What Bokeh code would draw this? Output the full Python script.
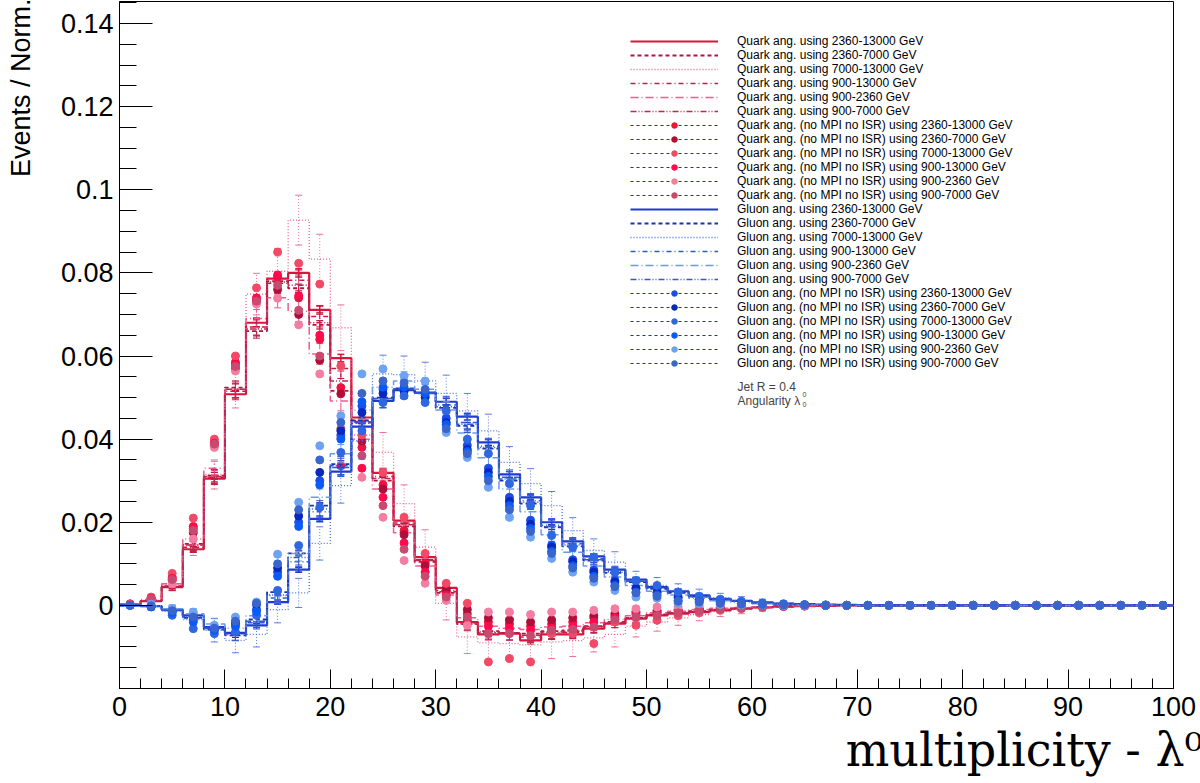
import math
import numpy as np
from bokeh.plotting import figure
from bokeh.models import FixedTicker, Label, Legend, LegendItem, Range1d, Title
from bokeh.embed import file_html
from bokeh.resources import INLINE

# ---------------- data ----------------
bin_width = 2
bin_lo = list(range(0, 100, bin_width))          # 50 bins: 0-2, 2-4, ... 98-100

x_ticks = [0, 10, 20, 30, 40, 50, 60, 70, 80, 90, 100]
x_tick_labels = ["0", "10", "20", "30", "40", "50", "60", "70", "80", "90", "100"]
y_ticks = [0.0, 0.02, 0.04, 0.06, 0.08, 0.1, 0.12, 0.14]
y_tick_labels = ["0", "0.02", "0.04", "0.06", "0.08", "0.1", "0.12", "0.14"]

Z10 = [0.0] * 10

# Quark histograms
q_2360_13000 = [0.0002, 0.0010, 0.0044, 0.0135, 0.0305, 0.0508, 0.0680, 0.0786, 0.0800, 0.0711,
                0.0595, 0.0452, 0.0319, 0.0204, 0.0116, 0.0042, -0.0040, -0.0070, -0.0068, -0.0084,
                -0.0070, -0.0070, -0.0056, -0.0044, -0.0032, -0.0024, -0.0020, -0.0016, -0.0012, -0.0008,
                -0.0005, -0.0003, -0.0002, -0.0001, 0.0, 0.0, 0.0, 0.0, 0.0, 0.0] + Z10
q_2360_7000 = [0.0002, 0.0011, 0.0046, 0.0148, 0.0312, 0.0524, 0.0660, 0.0780, 0.0763, 0.0675,
               0.0516, 0.0440, 0.0300, 0.0190, 0.0105, 0.0030, -0.0045, -0.0062, -0.0066, -0.0068,
               -0.0062, -0.0060, -0.0050, -0.0040, -0.0030, -0.0022, -0.0018, -0.0014, -0.0010, -0.0007,
               -0.0004, -0.0002, -0.0001, 0.0, 0.0, 0.0, 0.0, 0.0, 0.0, 0.0] + Z10
q_7000_13000 = [0.0002, 0.0012, 0.0050, 0.0145, 0.0315, 0.0520, 0.0749, 0.0804, 0.0927, 0.0833,
                0.0668, 0.0410, 0.0368, 0.0245, 0.0140, 0.0005, -0.0076, -0.0090, -0.0092, -0.0095,
                -0.0088, -0.0085, -0.0078, -0.0070, -0.0050, -0.0040, -0.0030, -0.0022, -0.0015, -0.0010,
                -0.0006, -0.0004, -0.0002, -0.0001, 0.0, 0.0, 0.0, 0.0, 0.0, 0.0] + Z10
q_900_13000 = [0.0002, 0.0010, 0.0045, 0.0140, 0.0308, 0.0515, 0.0670, 0.0775, 0.0782, 0.0695,
               0.0570, 0.0445, 0.0310, 0.0198, 0.0110, 0.0036, -0.0042, -0.0066, -0.0067, -0.0076,
               -0.0066, -0.0065, -0.0053, -0.0042, -0.0031, -0.0023, -0.0019, -0.0015, -0.0011, -0.0008,
               -0.0005, -0.0003, -0.0001, 0.0, 0.0, 0.0, 0.0, 0.0, 0.0, 0.0] + Z10
q_900_2360 = [0.0003, 0.0014, 0.0052, 0.0160, 0.0330, 0.0520, 0.0690, 0.0740, 0.0708, 0.0605,
              0.0492, 0.0400, 0.0280, 0.0175, 0.0095, 0.0025, -0.0030, -0.0050, -0.0055, -0.0058,
              -0.0052, -0.0050, -0.0042, -0.0034, -0.0025, -0.0018, -0.0014, -0.0010, -0.0007, -0.0005,
              -0.0003, -0.0002, -0.0001, 0.0, 0.0, 0.0, 0.0, 0.0, 0.0, 0.0] + Z10
q_900_7000 = [0.0002, 0.0011, 0.0046, 0.0145, 0.0310, 0.0520, 0.0665, 0.0778, 0.0770, 0.0680,
              0.0540, 0.0442, 0.0305, 0.0194, 0.0108, 0.0033, -0.0044, -0.0064, -0.0066, -0.0072,
              -0.0064, -0.0062, -0.0051, -0.0041, -0.0030, -0.0022, -0.0018, -0.0014, -0.0010, -0.0007,
              -0.0004, -0.0002, -0.0001, 0.0, 0.0, 0.0, 0.0, 0.0, 0.0, 0.0] + Z10

# Quark (no MPI no ISR) markers
qn_2360_13000 = [0.0003, 0.0018, 0.0068, 0.0190, 0.0392, 0.0585, 0.0735, 0.0790, 0.0740, 0.0640,
                 0.0524, 0.0380, 0.0290, 0.0180, 0.0100, 0.0035, -0.0020, -0.0040, -0.0045, -0.0050,
                 -0.0045, -0.0040, -0.0030, -0.0025, -0.0018, -0.0015, -0.0012, -0.0009, -0.0006, -0.0004,
                 -0.0002, -0.0001, -0.0001, 0.0, 0.0, 0.0, 0.0, 0.0, 0.0, 0.0] + Z10
qn_2360_7000 = [0.0002, 0.0015, 0.0060, 0.0175, 0.0385, 0.0570, 0.0730, 0.0760, 0.0700, 0.0590,
                0.0509, 0.0395, 0.0280, 0.0170, 0.0095, 0.0040, -0.0010, -0.0030, -0.0035, -0.0040,
                -0.0035, -0.0030, -0.0025, -0.0020, -0.0015, -0.0012, -0.0010, -0.0008, -0.0005, -0.0003,
                -0.0002, -0.0001, 0.0, 0.0, 0.0, 0.0, 0.0, 0.0, 0.0, 0.0] + Z10
qn_7000_13000 = [0.0004, 0.0020, 0.0077, 0.0210, 0.0400, 0.0600, 0.0764, 0.0850, 0.0823, 0.0773,
                 0.0576, 0.0410, 0.0320, 0.0212, 0.0125, 0.0053, 0.0005, -0.0136, -0.0128, -0.0136,
                 -0.0068, -0.0068, -0.0092, -0.0040, -0.0048, -0.0036, -0.0025, -0.0018, -0.0012, -0.0008,
                 -0.0005, -0.0003, -0.0002, 0.0, 0.0, 0.0, 0.0, 0.0, 0.0, 0.0] + Z10
qn_900_13000 = [0.0003, 0.0017, 0.0065, 0.0185, 0.0390, 0.0580, 0.0740, 0.0795, 0.0745, 0.0650,
                0.0336, 0.0330, 0.0260, 0.0150, 0.0080, 0.0025, -0.0035, -0.0050, -0.0055, -0.0060,
                -0.0055, -0.0050, -0.0040, -0.0030, -0.0022, -0.0020, -0.0015, -0.0011, -0.0008, -0.0005,
                -0.0003, -0.0002, -0.0001, 0.0, 0.0, 0.0, 0.0, 0.0, 0.0, 0.0] + Z10
qn_900_2360 = [0.0002, 0.0013, 0.0052, 0.0160, 0.0380, 0.0564, 0.0725, 0.0739, 0.0675, 0.0557,
               0.0404, 0.0308, 0.0212, 0.0108, 0.0053, 0.0012, -0.0048, -0.0016, -0.0016, -0.0022,
               -0.0016, -0.0016, -0.0012, -0.0008, -0.0008, -0.0004, -0.0003, -0.0002, -0.0001, -0.0001,
               0.0, 0.0, 0.0, 0.0, 0.0, 0.0, 0.0, 0.0, 0.0, 0.0] + Z10
qn_900_7000 = [0.0003, 0.0016, 0.0062, 0.0180, 0.0388, 0.0575, 0.0732, 0.0770, 0.0710, 0.0600,
               0.0425, 0.0360, 0.0240, 0.0135, 0.0070, 0.0020, -0.0028, -0.0068, -0.0068, -0.0073,
               -0.0060, -0.0058, -0.0052, -0.0035, -0.0028, -0.0025, -0.0018, -0.0013, -0.0009, -0.0006,
               -0.0004, -0.0002, -0.0001, 0.0, 0.0, 0.0, 0.0, 0.0, 0.0, 0.0] + Z10

# Gluon histograms
g_2360_13000 = [0.0, -0.0002, -0.0010, -0.0024, -0.0052, -0.0066, -0.0048, 0.0008, 0.0086, 0.0208,
                0.0322, 0.0430, 0.0492, 0.0518, 0.0512, 0.0490, 0.0454, 0.0392, 0.0315, 0.0260,
                0.0200, 0.0154, 0.0118, 0.0086, 0.0062, 0.0044, 0.0034, 0.0024, 0.0016, 0.0011,
                0.0007, 0.0004, 0.0003, 0.0002, 0.0001, 0.0, 0.0, 0.0, 0.0, 0.0] + Z10
g_2360_7000 = [0.0, -0.0002, -0.0012, -0.0030, -0.0058, -0.0072, -0.0034, 0.0032, 0.0125, 0.0240,
               0.0340, 0.0445, 0.0500, 0.0522, 0.0512, 0.0475, 0.0432, 0.0377, 0.0300, 0.0245,
               0.0188, 0.0142, 0.0108, 0.0078, 0.0056, 0.0040, 0.0030, 0.0021, 0.0014, 0.0010,
               0.0006, 0.0004, 0.0002, 0.0001, 0.0001, 0.0, 0.0, 0.0, 0.0, 0.0] + Z10
g_7000_13000 = [0.0, -0.0003, -0.0014, -0.0034, -0.0060, -0.0084, -0.0070, -0.0010, 0.0030, 0.0149,
                0.0288, 0.0396, 0.0557, 0.0555, 0.0540, 0.0510, 0.0468, 0.0420, 0.0344, 0.0293,
                0.0240, 0.0180, 0.0132, 0.0104, 0.0060, 0.0048, 0.0036, 0.0026, 0.0018, 0.0012,
                0.0008, 0.0005, 0.0003, 0.0002, 0.0001, 0.0, 0.0, 0.0, 0.0, 0.0] + Z10
g_900_13000 = [0.0, -0.0002, -0.0011, -0.0027, -0.0055, -0.0069, -0.0042, 0.0018, 0.0105, 0.0225,
               0.0332, 0.0438, 0.0497, 0.0520, 0.0510, 0.0482, 0.0440, 0.0383, 0.0308, 0.0252,
               0.0193, 0.0148, 0.0112, 0.0082, 0.0058, 0.0042, 0.0032, 0.0022, 0.0015, 0.0010,
               0.0006, 0.0004, 0.0002, 0.0001, 0.0001, 0.0, 0.0, 0.0, 0.0, 0.0] + Z10
g_900_2360 = [0.0, -0.0001, -0.0008, -0.0020, -0.0045, -0.0055, -0.0025, 0.0024, 0.0125, 0.0260,
              0.0365, 0.0470, 0.0525, 0.0540, 0.0520, 0.0470, 0.0415, 0.0355, 0.0280, 0.0225,
              0.0170, 0.0128, 0.0095, 0.0068, 0.0048, 0.0034, 0.0025, 0.0017, 0.0011, 0.0007,
              0.0004, 0.0002, 0.0001, 0.0001, 0.0, 0.0, 0.0, 0.0, 0.0, 0.0] + Z10
g_900_7000 = [0.0, -0.0002, -0.0011, -0.0028, -0.0056, -0.0070, -0.0038, 0.0025, 0.0115, 0.0232,
              0.0336, 0.0442, 0.0498, 0.0521, 0.0511, 0.0478, 0.0436, 0.0380, 0.0304, 0.0248,
              0.0190, 0.0145, 0.0110, 0.0080, 0.0057, 0.0041, 0.0031, 0.0021, 0.0014, 0.0010,
              0.0006, 0.0004, 0.0002, 0.0001, 0.0001, 0.0, 0.0, 0.0, 0.0, 0.0] + Z10

# Gluon (no MPI no ISR) markers
gn_2360_13000 = [0.0, -0.0003, -0.0015, -0.0035, -0.0058, -0.0045, -0.0010, 0.0080, 0.0200, 0.0300,
                 0.0410, 0.0480, 0.0520, 0.0520, 0.0505, 0.0450, 0.0385, 0.0330, 0.0260, 0.0205,
                 0.0145, 0.0110, 0.0085, 0.0060, 0.0042, 0.0032, 0.0020, 0.0014, 0.0009, 0.0006,
                 0.0004, 0.0002, 0.0001, 0.0001, 0.0, 0.0, 0.0, 0.0, 0.0, 0.0] + Z10
gn_2360_7000 = [0.0, -0.0002, -0.0012, -0.0030, -0.0055, -0.0040, 0.0002, 0.0090, 0.0215, 0.0320,
                0.0420, 0.0464, 0.0510, 0.0515, 0.0500, 0.0440, 0.0375, 0.0320, 0.0250, 0.0195,
                0.0140, 0.0105, 0.0080, 0.0056, 0.0040, 0.0030, 0.0018, 0.0013, 0.0008, 0.0005,
                0.0003, 0.0002, 0.0001, 0.0, 0.0, 0.0, 0.0, 0.0, 0.0, 0.0] + Z10
gn_7000_13000 = [0.0, -0.0004, -0.0024, -0.0056, -0.0068, -0.0064, -0.0024, 0.0036, 0.0144, 0.0236,
                 0.0368, 0.0420, 0.0488, 0.0504, 0.0488, 0.0468, 0.0400, 0.0365, 0.0293, 0.0240,
                 0.0168, 0.0140, 0.0116, 0.0080, 0.0060, 0.0048, 0.0032, 0.0022, 0.0015, 0.0010,
                 0.0006, 0.0004, 0.0002, 0.0001, 0.0, 0.0, 0.0, 0.0, 0.0, 0.0] + Z10
gn_900_13000 = [0.0, -0.0003, -0.0018, -0.0040, -0.0060, -0.0050, -0.0015, 0.0070, 0.0190, 0.0290,
                0.0400, 0.0490, 0.0525, 0.0525, 0.0510, 0.0435, 0.0370, 0.0310, 0.0240, 0.0185,
                0.0130, 0.0095, 0.0070, 0.0048, 0.0032, 0.0025, 0.0012, 0.0009, 0.0006, 0.0004,
                0.0002, 0.0001, 0.0001, 0.0, 0.0, 0.0, 0.0, 0.0, 0.0, 0.0] + Z10
gn_900_2360 = [0.0, 0.0003, -0.0008, -0.0016, -0.0048, -0.0028, 0.0008, 0.0123, 0.0248, 0.0384,
               0.0456, 0.0557, 0.0569, 0.0552, 0.0540, 0.0416, 0.0356, 0.0284, 0.0212, 0.0164,
               0.0113, 0.0080, 0.0056, 0.0036, 0.0020, 0.0017, 0.0005, 0.0004, 0.0002, 0.0001,
               0.0001, 0.0, 0.0, 0.0, 0.0, 0.0, 0.0, 0.0, 0.0, 0.0] + Z10
gn_900_7000 = [0.0, -0.0001, -0.0013, -0.0028, -0.0055, -0.0038, 0.0005, 0.0100, 0.0230, 0.0350,
               0.0440, 0.0510, 0.0540, 0.0535, 0.0520, 0.0425, 0.0365, 0.0300, 0.0230, 0.0178,
               0.0125, 0.0090, 0.0065, 0.0045, 0.0030, 0.0022, 0.0010, 0.0008, 0.0005, 0.0003,
               0.0002, 0.0001, 0.0001, 0.0, 0.0, 0.0, 0.0, 0.0, 0.0, 0.0] + Z10

# statistical uncertainties (small / medium / large samples)
q_err_small = [0.0002, 0.0003, 0.0004, 0.0006, 0.0008, 0.0009, 0.0010, 0.0010, 0.0010, 0.0010,
               0.0009, 0.0009, 0.0008, 0.0007, 0.0006, 0.0005, 0.0005, 0.0005, 0.0004, 0.0004,
               0.0004, 0.0004, 0.0003, 0.0003, 0.0003, 0.0002, 0.0002, 0.0002, 0.0002, 0.0001,
               0.0001, 0.0001, 0.0001, 0.0001, 0.0, 0.0, 0.0, 0.0, 0.0, 0.0] + Z10
q_err_medium = [0.0003, 0.0006, 0.0009, 0.0013, 0.0017, 0.0020, 0.0022, 0.0024, 0.0025, 0.0025,
                0.0024, 0.0022, 0.0020, 0.0019, 0.0018, 0.0017, 0.0017, 0.0017, 0.0017, 0.0017,
                0.0016, 0.0015, 0.0014, 0.0012, 0.0010, 0.0009, 0.0008, 0.0007, 0.0006, 0.0005,
                0.0004, 0.0003, 0.0002, 0.0002, 0.0001, 0.0001, 0.0, 0.0, 0.0, 0.0] + Z10
q_err_large = [0.0005, 0.0010, 0.0015, 0.0025, 0.0035, 0.0045, 0.0050, 0.0055, 0.0060, 0.0060,
               0.0055, 0.0050, 0.0048, 0.0045, 0.0042, 0.0040, 0.0040, 0.0042, 0.0042, 0.0042,
               0.0040, 0.0038, 0.0034, 0.0030, 0.0026, 0.0022, 0.0018, 0.0015, 0.0012, 0.0010,
               0.0008, 0.0006, 0.0005, 0.0004, 0.0003, 0.0002, 0.0002, 0.0001, 0.0001, 0.0001] + Z10
g_err_small = [0.0001, 0.0002, 0.0003, 0.0004, 0.0005, 0.0005, 0.0005, 0.0005, 0.0006, 0.0007,
               0.0008, 0.0008, 0.0008, 0.0008, 0.0008, 0.0008, 0.0008, 0.0007, 0.0007, 0.0006,
               0.0006, 0.0005, 0.0005, 0.0004, 0.0004, 0.0003, 0.0003, 0.0003, 0.0002, 0.0002,
               0.0002, 0.0001, 0.0001, 0.0001, 0.0001, 0.0, 0.0, 0.0, 0.0, 0.0] + Z10
g_err_medium = [0.0002, 0.0004, 0.0008, 0.0012, 0.0014, 0.0015, 0.0015, 0.0016, 0.0018, 0.0020,
                0.0022, 0.0022, 0.0022, 0.0022, 0.0022, 0.0021, 0.0020, 0.0019, 0.0018, 0.0017,
                0.0016, 0.0015, 0.0013, 0.0012, 0.0010, 0.0009, 0.0008, 0.0007, 0.0006, 0.0005,
                0.0004, 0.0003, 0.0002, 0.0002, 0.0001, 0.0001, 0.0, 0.0, 0.0, 0.0] + Z10
g_err_large = [0.0004, 0.0008, 0.0015, 0.0022, 0.0028, 0.0030, 0.0030, 0.0032, 0.0035, 0.0040,
               0.0042, 0.0044, 0.0045, 0.0045, 0.0045, 0.0044, 0.0042, 0.0040, 0.0038, 0.0036,
               0.0034, 0.0031, 0.0028, 0.0025, 0.0022, 0.0019, 0.0016, 0.0013, 0.0011, 0.0009,
               0.0007, 0.0005, 0.0004, 0.0003, 0.0002, 0.0002, 0.0001, 0.0001, 0.0, 0.0] + Z10

ranges = ["2360-13000", "2360-7000", "7000-13000", "900-13000", "900-2360", "900-7000"]

quark_hists = [q_2360_13000, q_2360_7000, q_7000_13000, q_900_13000, q_900_2360, q_900_7000]
quark_marks = [qn_2360_13000, qn_2360_7000, qn_7000_13000, qn_900_13000, qn_900_2360, qn_900_7000]
gluon_hists = [g_2360_13000, g_2360_7000, g_7000_13000, g_900_13000, g_900_2360, g_900_7000]
gluon_marks = [gn_2360_13000, gn_2360_7000, gn_7000_13000, gn_900_13000, gn_900_2360, gn_900_7000]
quark_errs = [q_err_small, q_err_small, q_err_large, q_err_medium, q_err_medium, q_err_medium]
gluon_errs = [g_err_small, g_err_small, g_err_large, g_err_medium, g_err_medium, g_err_medium]

for arr in quark_hists + quark_marks + gluon_hists + gluon_marks + quark_errs + gluon_errs:
    assert len(arr) == len(bin_lo), len(arr)

# ---------------- styles ----------------
dashes = ["solid", "4 3", "1 2", "5 3 1 3", "8 3 1 3", "6 2 1 2 1 2"]
widths = [2.2, 1.8, 1.3, 1.5, 1.5, 1.5]
q_hist_colors = ["#dc143c", "#b8123e", "#e8648c", "#cc1848", "#ee5c92", "#b82a52"]
q_mark_colors = ["#f0123e", "#b00e3a", "#f24a66", "#ff0a4c", "#f47ea2", "#c84a70"]
g_hist_colors = ["#1c3cd0", "#1634b0", "#4a72dc", "#2a5ae0", "#6a9ae8", "#3a58c4"]
g_mark_colors = ["#1a4ee8", "#0a28c0", "#2f66e2", "#0a5af8", "#6ea2f2", "#3a66cc"]
legend_marker_line = "#2e2e8c"

FONT = "Liberation Sans"
SERIF = "DejaVu Serif"

p = figure(width=1200, height=783, output_backend="svg", toolbar_location=None,
           x_range=Range1d(0, 100), y_range=Range1d(-0.02, 0.1453),
           min_border_left=119, min_border_right=27, min_border_top=1, min_border_bottom=95)
p.grid.visible = False
p.background_fill_color = "white"
p.border_fill_color = "white"
p.outline_line_color = "black"
p.outline_line_width = 1

# axes
xa = p.xaxis[0]
xa.ticker = FixedTicker(ticks=x_ticks, minor_ticks=list(range(0, 101, 2)))
xa.major_label_overrides = {t: s for t, s in zip(x_ticks, x_tick_labels)}
xa.major_tick_in = 19
xa.major_tick_out = 0
xa.minor_tick_in = 10
xa.minor_tick_out = 0
xa.major_label_standoff = 8
ya = p.yaxis[0]
ya.ticker = FixedTicker(ticks=y_ticks, minor_ticks=[round(-0.02 + 0.005 * k, 3) for k in range(34)])
ya.major_label_overrides = {t: s for t, s in zip(y_ticks, y_tick_labels)}
ya.major_tick_in = 33
ya.major_tick_out = 0
ya.minor_tick_in = 17
ya.minor_tick_out = 0
ya.major_label_standoff = 6
for ax in (xa, ya):
    ax.axis_line_color = "black"
    ax.major_tick_line_color = "black"
    ax.minor_tick_line_color = "black"
    ax.major_label_text_font = FONT
    ax.major_label_text_font_size = "27px"
    ax.major_label_text_color = "black"

# y-axis title at the top end of the axis (Bokeh centres an "end" label on the axis end,
# so trailing no-break spaces move the visible words down to end at the top of the frame)
ya.axis_label = "Events / Norm." + "\u00a0" * 23
ya.axis_label_text_font = FONT
ya.axis_label_text_font_size = "27px"
ya.axis_label_text_font_style = "normal"
ya.axis_label_text_color = "black"
ya.axis_label_standoff = 22
ya.axis_label_align = "end"

centers = [b + bin_width / 2 for b in bin_lo]


def draw_hist(vals, errs, color, dash, width):
    xs = bin_lo + [bin_lo[-1] + bin_width]
    ys = list(vals) + [vals[-1]]
    r = p.step(x=xs, y=ys, mode="after", line_color=color, line_dash=dash, line_width=width)
    idx = [i for i, e in enumerate(errs) if e > 0]
    xe = [centers[i] for i in idx]
    lo = [vals[i] - errs[i] for i in idx]
    hi = [vals[i] + errs[i] for i in idx]
    p.segment(x0=xe, y0=lo, x1=xe, y1=hi, line_color=color, line_dash=dash, line_width=width * 0.7)
    p.scatter(x=xe + xe, y=lo + hi, marker="dash", size=7, line_color=color, line_width=width * 0.7)
    return r


def draw_marks(vals, color):
    return p.scatter(x=centers, y=vals, marker="circle", size=8, fill_color=color, line_color=color)


items = []
for k in range(6):
    r = draw_hist(quark_hists[k], quark_errs[k], q_hist_colors[k], dashes[k], widths[k])
    items.append(LegendItem(label=f"Quark ang. using {ranges[k]} GeV", renderers=[r]))
for k in range(6):
    ln = p.line(x=[np.nan], y=[np.nan], line_color=legend_marker_line, line_dash="3 3", line_width=1)
    r = draw_marks(quark_marks[k], q_mark_colors[k])
    items.append(LegendItem(label=f"Quark ang. (no MPI no ISR) using {ranges[k]} GeV", renderers=[ln, r]))
for k in range(6):
    r = draw_hist(gluon_hists[k], gluon_errs[k], g_hist_colors[k], dashes[k], widths[k])
    items.append(LegendItem(label=f"Gluon ang. using {ranges[k]} GeV", renderers=[r]))
for k in range(6):
    ln = p.line(x=[np.nan], y=[np.nan], line_color=legend_marker_line, line_dash="3 3", line_width=1)
    r = draw_marks(gluon_marks[k], g_mark_colors[k])
    items.append(LegendItem(label=f"Gluon ang. (no MPI no ISR) using {ranges[k]} GeV", renderers=[ln, r]))

legend = Legend(items=items, location=(511, 318), orientation="vertical",
                glyph_width=88, glyph_height=14, label_height=14, spacing=0, padding=0, margin=0,
                label_standoff=19, border_line_alpha=0, background_fill_alpha=0,
                label_text_font=FONT, label_text_font_size="12px", label_text_color="black")
p.add_layout(legend)

# extra legend text (inside the frame)
p.add_layout(Label(x=618, y=302, x_units="screen", y_units="screen", text="Jet R = 0.4",
                   text_font=FONT, text_font_size="12px", text_baseline="alphabetic"))
p.add_layout(Label(x=618, y=288, x_units="screen", y_units="screen", text="Angularity λ",
                   text_font=FONT, text_font_size="12px", text_baseline="alphabetic"))
p.add_layout(Label(x=683, y=294, x_units="screen", y_units="screen", text="0",
                   text_font=FONT, text_font_size="7px", text_baseline="alphabetic"))
p.add_layout(Label(x=683, y=284, x_units="screen", y_units="screen", text="0",
                   text_font=FONT, text_font_size="7px", text_baseline="alphabetic"))

# x-axis title in the panel below (right aligned, runs past the right edge like the original)
xtitle = Title(text="multiplicity - λ⁰₀", align="right", offset=-48, standoff=5,
               text_font=SERIF, text_font_size="46px", text_font_style="normal",
               text_color="black")
p.add_layout(xtitle, "below")

open("out.html", "w").write(file_html(p, INLINE))
